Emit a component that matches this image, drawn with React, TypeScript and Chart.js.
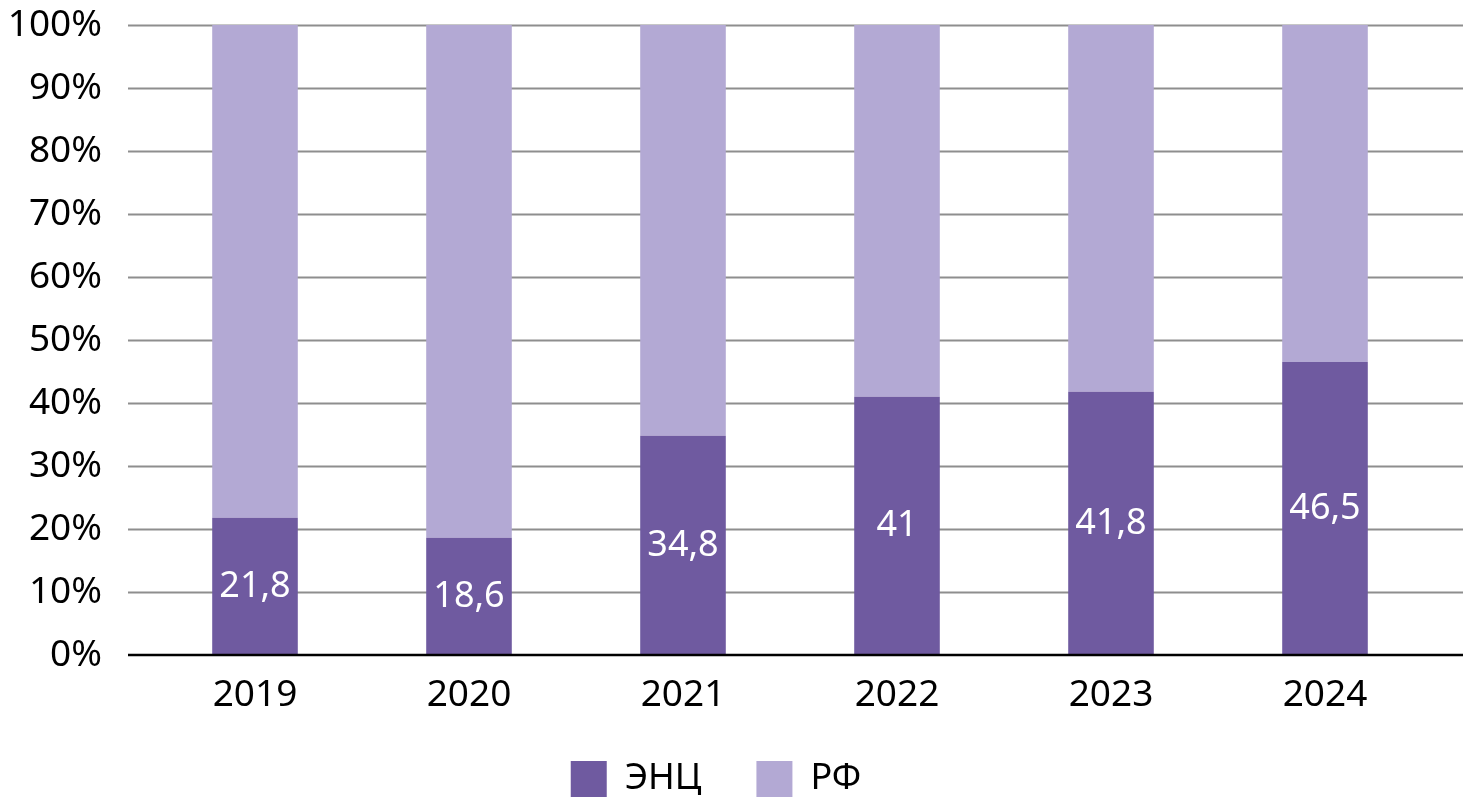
import { useEffect, useRef } from "react";
import Chart from "chart.js/auto";

const years = ["2019", "2020", "2021", "2022", "2023", "2024"];
const encShare = [21.8, 18.6, 34.8, 41, 41.8, 46.5];
const rfShare = [78.2, 81.4, 65.2, 59, 58.2, 53.5];
const seriesNames = ["ЭНЦ", "РФ"];
const yTicks = [0, 10, 20, 30, 40, 50, 60, 70, 80, 90, 100];

const DARK = "#6f5aa0";
const LIGHT = "#b3a9d4";
const FONT = "'Noto Sans', 'DejaVu Sans', sans-serif";

// сетка шире области графика + подписи внутри баров
const extrasPlugin = {
  id: "extras",
  beforeDatasetsDraw(chart: any) {
    const { ctx, scales, width } = chart;
    const y = scales.y;
    const left = chart.chartArea.left - 20;
    ctx.save();
    ctx.strokeStyle = "#8e8e8e";
    ctx.lineWidth = 2;
    yTicks.forEach((v) => {
      if (v === 0) return;
      const py = Math.round(y.getPixelForValue(v)) + 0.5;
      ctx.beginPath();
      ctx.moveTo(left, py);
      ctx.lineTo(width, py);
      ctx.stroke();
    });
    ctx.restore();
  },
  afterDatasetsDraw(chart: any) {
    const { ctx, scales, width } = chart;
    const y0 = scales.y.getPixelForValue(0);
    ctx.save();
    ctx.strokeStyle = "#000";
    ctx.lineWidth = 2.5;
    ctx.beginPath();
    ctx.moveTo(chart.chartArea.left - 20, y0);
    ctx.lineTo(width, y0);
    ctx.stroke();

    ctx.fillStyle = "#fff";
    ctx.font = `36px ${FONT}`;
    ctx.textAlign = "center";
    ctx.textBaseline = "middle";
    chart.getDatasetMeta(0).data.forEach((bar: any, i: number) => {
      const label = String(encShare[i]).replace(".", ",");
      ctx.fillText(label, bar.x, (bar.y + bar.base) / 2);
    });
    ctx.restore();
  },
};

export default function App() {
  const chartRef = useRef<HTMLCanvasElement | null>(null);

  useEffect(() => {
    const canvas = chartRef.current;
    if (!canvas) return;
    const ctx = canvas.getContext("2d");
    if (!ctx) return;

    const myChart = new Chart(ctx, {
      type: "bar",
      data: {
        labels: years,
        datasets: [
          {
            label: seriesNames[0],
            data: encShare,
            backgroundColor: DARK,
            borderWidth: 0,
            barPercentage: 0.4,
            categoryPercentage: 1,
          },
          {
            label: seriesNames[1],
            data: rfShare,
            backgroundColor: LIGHT,
            borderWidth: 0,
            barPercentage: 0.4,
            categoryPercentage: 1,
          },
        ],
      },
      options: {
        animation: false,
        responsive: true,
        maintainAspectRatio: false,
        layout: { padding: { top: 25, right: 31, left: 0, bottom: 0 } },
        scales: {
          x: {
            stacked: true,
            grid: { display: false },
            border: { display: false },
            ticks: { color: "#000", font: { family: FONT, size: 37, lineHeight: 1 }, padding: 14 },
            afterFit: (scale: any) => {
              scale.height = 51;
            },
          },
          y: {
            stacked: true,
            min: 0,
            max: 100,
            grid: { display: false },
            border: { display: false },
            ticks: {
              stepSize: 10,
              color: "#000",
              font: { family: FONT, size: 37 },
              padding: 38,
              callback: (v: any) => v + "%",
            },
            afterFit: (scale: any) => {
              scale.width = 148;
              scale.paddingTop = 0;
              scale.paddingBottom = 0;
            },
          },
        },
        plugins: {
          legend: {
            position: "bottom",
            labels: {
              boxWidth: 36,
              boxHeight: 36,
              padding: 55,
              color: "#000",
              font: { family: FONT, size: 36 },
            },
          },
          tooltip: { enabled: false },
        },
      },
      plugins: [extrasPlugin],
    });

    return () => {
      myChart.destroy();
    };
  }, []);

  return (
    <div style={{ position: "absolute", left: 0, top: 0, width: "1463px", height: "807px", background: "#fff" }}>
      <canvas ref={chartRef}></canvas>
    </div>
  );
}
